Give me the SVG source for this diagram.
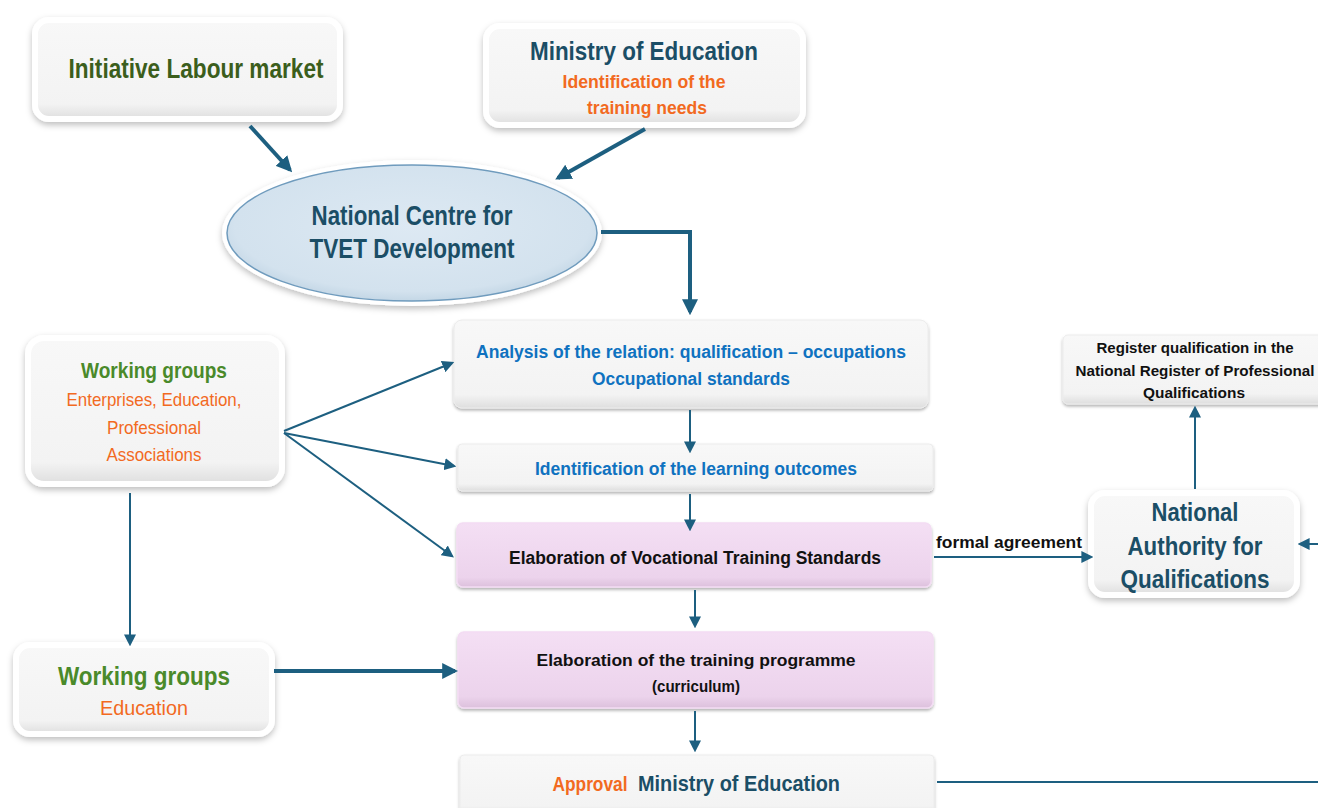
<svg xmlns="http://www.w3.org/2000/svg" width="1318" height="808" viewBox="0 0 1318 808">
<style>
  text { font-family: "Liberation Sans", Arial, sans-serif; font-weight: bold; text-anchor: middle; }
  .box { fill: url(#gGray); stroke: #ffffff; stroke-width: 6; filter: url(#sh); }
  .flat { fill: url(#gGray); stroke: #ececec; stroke-width: 1; filter: url(#sh2); }
  .pink { fill: url(#gPink); stroke: #f3dcf3; stroke-width: 1.5; filter: url(#sh2); }
  .thick { stroke: #1d5f80; stroke-width: 4; fill: none; }
  .thin { stroke: #1d5f80; stroke-width: 2; fill: none; }
  .green { fill: #3b5e1c; }
  .green2 { fill: #4a8a2a; }
  .teal { fill: #1b4e66; }
  .orange { fill: #f26a1f; font-weight: normal; }
  .orangeb { fill: #f26a1f; }
  .blue { fill: #0f72c0; }
  .black { fill: #111111; }
</style>
<defs>
  <linearGradient id="gGray" x1="0" y1="0" x2="0" y2="1">
    <stop offset="0" stop-color="#f8f8f8"/>
    <stop offset="0.85" stop-color="#f3f3f3"/>
    <stop offset="1" stop-color="#dedede"/>
  </linearGradient>
  <linearGradient id="gPink" x1="0" y1="0" x2="0" y2="1">
    <stop offset="0" stop-color="#f4dff4"/>
    <stop offset="0.85" stop-color="#ecd3ec"/>
    <stop offset="1" stop-color="#dcc0dc"/>
  </linearGradient>
  <radialGradient id="gEll" cx="0.5" cy="0.45" r="0.6">
    <stop offset="0" stop-color="#dde9f3"/>
    <stop offset="0.8" stop-color="#d3e2ee"/>
    <stop offset="1" stop-color="#b9cfe0"/>
  </radialGradient>
  <filter id="sh" x="-10%" y="-10%" width="120%" height="130%">
    <feDropShadow dx="0" dy="3" stdDeviation="3" flood-color="#000" flood-opacity="0.25"/>
  </filter>
  <filter id="sh2" x="-5%" y="-10%" width="110%" height="130%">
    <feDropShadow dx="0" dy="2" stdDeviation="1.5" flood-color="#000" flood-opacity="0.3"/>
  </filter>
  <marker id="ahT" viewBox="0 0 10 10" refX="8" refY="5" markerWidth="4" markerHeight="4" orient="auto" markerUnits="strokeWidth">
    <path d="M0,0 L10,5 L0,10 z" fill="#1d5f80"/>
  </marker>
  <marker id="ah" viewBox="0 0 10 10" refX="8" refY="5" markerWidth="6" markerHeight="6" orient="auto" markerUnits="strokeWidth">
    <path d="M0,0 L10,5 L0,10 z" fill="#1d5f80"/>
  </marker>
</defs>

<g id="initiative">
  <rect class="box" x="35" y="20" width="305" height="99" rx="14"/>
  <text class="green" x="196" y="78" font-size="27" textLength="255" lengthAdjust="spacingAndGlyphs">Initiative Labour market</text>
</g>

<g id="ministry">
  <rect class="box" x="486" y="26" width="317" height="99" rx="14"/>
  <text class="teal" x="644" y="60" font-size="26" textLength="228" lengthAdjust="spacingAndGlyphs">Ministry of Education</text>
  <text class="orangeb" x="644" y="88" font-size="19" textLength="163" lengthAdjust="spacingAndGlyphs">Identification of the</text>
  <text class="orangeb" x="647" y="114" font-size="19" textLength="120" lengthAdjust="spacingAndGlyphs">training needs</text>
</g>

<g id="national-centre">
  <ellipse cx="412" cy="233" rx="190" ry="73" fill="#ffffff" filter="url(#sh)"/>
  <ellipse cx="412" cy="233" rx="185" ry="68" fill="url(#gEll)" stroke="#6f9bbd" stroke-width="1.5"/>
  <text class="teal" x="412" y="225" font-size="27" textLength="201" lengthAdjust="spacingAndGlyphs">National Centre for</text>
  <text class="teal" x="412" y="258" font-size="27" textLength="205" lengthAdjust="spacingAndGlyphs">TVET Development</text>
</g>

<g id="analysis">
  <rect class="flat" x="454" y="320" width="474" height="88" rx="8"/>
  <text class="blue" x="691" y="358" font-size="18" textLength="430" lengthAdjust="spacingAndGlyphs">Analysis of the relation: qualification – occupations</text>
  <text class="blue" x="691" y="385" font-size="18" textLength="198" lengthAdjust="spacingAndGlyphs">Occupational standards</text>
</g>

<g id="learning-outcomes">
  <rect class="flat" x="458" y="444" width="475" height="47" rx="4"/>
  <text class="blue" x="696" y="475" font-size="18" textLength="322" lengthAdjust="spacingAndGlyphs">Identification of the learning outcomes</text>
</g>

<g id="vts">
  <rect class="pink" x="457" y="523" width="474" height="64" rx="6"/>
  <text class="black" x="695" y="564" font-size="18" textLength="372" lengthAdjust="spacingAndGlyphs">Elaboration of Vocational Training Standards</text>
</g>

<g id="training-programme">
  <rect class="pink" x="458" y="632" width="475" height="76" rx="6"/>
  <text class="black" x="696" y="666" font-size="17" textLength="319" lengthAdjust="spacingAndGlyphs">Elaboration of the training programme</text>
  <text class="black" x="696" y="692" font-size="17" textLength="88" lengthAdjust="spacingAndGlyphs">(curriculum)</text>
</g>

<g id="approval">
  <rect class="flat" x="460" y="755" width="474" height="60" rx="4"/>
  <text class="orangeb" x="590" y="791" font-size="21" textLength="75" lengthAdjust="spacingAndGlyphs">Approval</text>
  <text class="teal" x="739" y="791" font-size="22" textLength="202" lengthAdjust="spacingAndGlyphs">Ministry of Education</text>
</g>

<g id="naq">
  <rect class="box" x="1091" y="493" width="206" height="102" rx="14"/>
  <text class="teal" x="1195" y="521" font-size="26" textLength="87" lengthAdjust="spacingAndGlyphs">National</text>
  <text class="teal" x="1195" y="555" font-size="26" textLength="135" lengthAdjust="spacingAndGlyphs">Authority for</text>
  <text class="teal" x="1195" y="588" font-size="26" textLength="149" lengthAdjust="spacingAndGlyphs">Qualifications</text>
</g>

<g id="register">
  <rect class="flat" x="1063" y="335" width="270" height="69" rx="5"/>
  <text class="black" x="1195" y="353" font-size="15" textLength="197" lengthAdjust="spacingAndGlyphs">Register qualification in the</text>
  <text class="black" x="1195" y="376" font-size="15" textLength="239" lengthAdjust="spacingAndGlyphs">National Register of Professional</text>
  <text class="black" x="1194" y="398" font-size="15" textLength="102" lengthAdjust="spacingAndGlyphs">Qualifications</text>
</g>

<g id="working-groups-1">
  <rect class="box" x="28" y="338" width="254" height="146" rx="16"/>
  <text class="green2" x="154" y="378" font-size="22" textLength="146" lengthAdjust="spacingAndGlyphs">Working groups</text>
  <text class="orange" x="154" y="406" font-size="19" textLength="175" lengthAdjust="spacingAndGlyphs">Enterprises, Education,</text>
  <text class="orange" x="154" y="434" font-size="19" textLength="94" lengthAdjust="spacingAndGlyphs">Professional</text>
  <text class="orange" x="154" y="461" font-size="19" textLength="95" lengthAdjust="spacingAndGlyphs">Associations</text>
</g>

<g id="working-groups-2">
  <rect class="box" x="16" y="645" width="256" height="89" rx="14"/>
  <text class="green2" x="144" y="685" font-size="25" textLength="172" lengthAdjust="spacingAndGlyphs">Working groups</text>
  <text class="orange" x="144" y="715" font-size="21" textLength="88" lengthAdjust="spacingAndGlyphs">Education</text>
</g>

<g id="connectors">
  <line class="thick" x1="250" y1="126" x2="290" y2="170" marker-end="url(#ahT)"/>
  <line class="thick" x1="645" y1="129" x2="558" y2="178" marker-end="url(#ahT)"/>
  <polyline class="thick" points="601,232 690,232 690,312" marker-end="url(#ahT)"/>
  <line class="thin" x1="690" y1="410" x2="690" y2="451" marker-end="url(#ah)"/>
  <line class="thin" x1="690" y1="494" x2="690" y2="529" marker-end="url(#ah)"/>
  <line class="thin" x1="695" y1="590" x2="695" y2="626" marker-end="url(#ah)"/>
  <line class="thin" x1="695" y1="711" x2="695" y2="750" marker-end="url(#ah)"/>
  <line class="thin" x1="284" y1="431" x2="452" y2="363" marker-end="url(#ah)"/>
  <line class="thin" x1="284" y1="433" x2="454" y2="466" marker-end="url(#ah)"/>
  <line class="thin" x1="284" y1="433" x2="452" y2="556" marker-end="url(#ah)"/>
  <line class="thin" x1="130" y1="493" x2="130" y2="644" marker-end="url(#ah)"/>
  <line class="thick" x1="274" y1="671" x2="455" y2="671" marker-end="url(#ahT)"/>
  <line class="thin" x1="934" y1="557" x2="1091" y2="557" marker-end="url(#ah)"/>
  <line class="thin" x1="1318" y1="544" x2="1300" y2="544" marker-end="url(#ah)"/>
  <line class="thin" x1="1195" y1="489" x2="1195" y2="408" marker-end="url(#ah)"/>
  <line class="thin" x1="937" y1="782" x2="1318" y2="782"/>
  <text class="black" x="1009" y="548" font-size="17" textLength="146" lengthAdjust="spacingAndGlyphs">formal agreement</text>
</g>
</svg>
